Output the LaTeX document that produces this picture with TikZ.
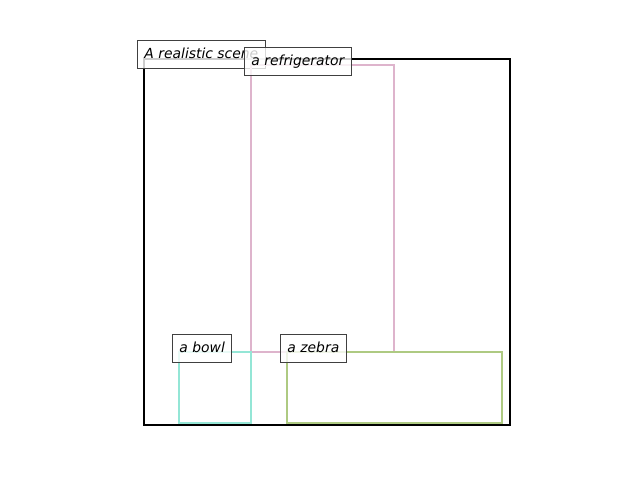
\documentclass[tikz,border=0pt]{standalone}
\usepackage{fontspec}
\setmainfont{DejaVu Sans}
\definecolor{fridgec}{RGB}{222,180,204}
\definecolor{bowlc}{RGB}{148,230,214}
\definecolor{zebrac}{RGB}{174,202,130}
\definecolor{edgec}{RGB}{64,64,64}
\tikzset{
  region/.style={draw, line width=2.4pt, fill=none},
  lbl/.style={draw=edgec, line width=0.9pt, fill=white, fill opacity=0.8, text opacity=1,
    anchor=north west, inner xsep=7pt, inner ysep=7pt, text height=11pt, text depth=3pt,
    font=\fontsize{13.9}{16}\selectfont\itshape}
}
\begin{document}
\begin{tikzpicture}[x=1pt,y=-1pt]
\useasboundingbox (0,0) rectangle (640,480);
\draw[region, black, line width=2.2pt] (144,59) rectangle (510,425);
\node[lbl] (scene) at (137,40) {A realistic scene};
\draw[region, fridgec] (251,65) rectangle (394,352);
\node[lbl] (fridge) at (244,47) {a refrigerator};
\draw[region, bowlc] (179,352) rectangle (251,423);
\node[lbl] (bowl) at (172,334) {a bowl};
\draw[region, zebrac] (287,352) rectangle (502,423);
\node[lbl] (zebra) at (280,334) {a zebra};
\end{tikzpicture}
\end{document}
